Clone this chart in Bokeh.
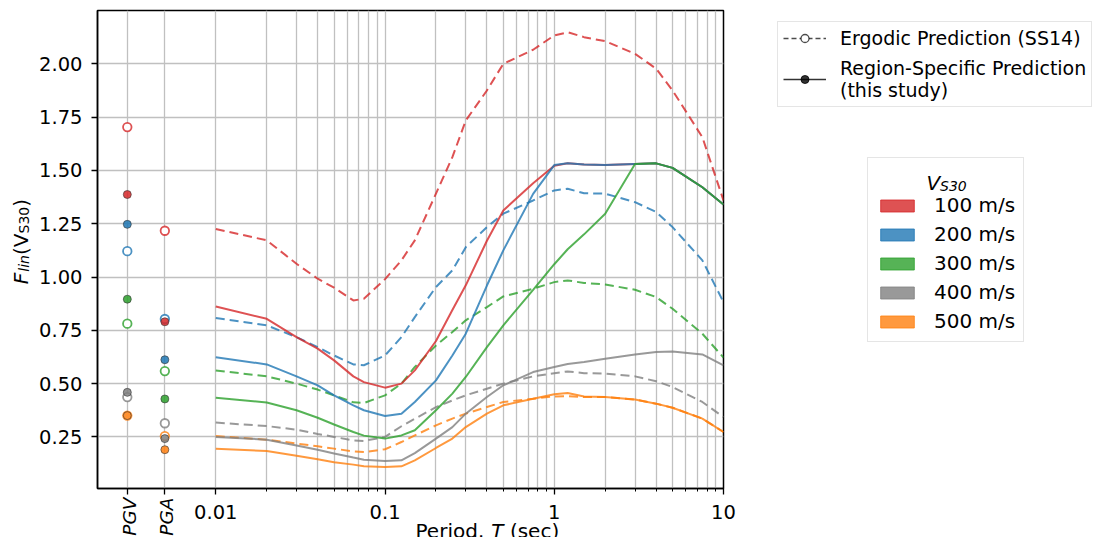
import math
from bokeh.plotting import figure
from bokeh.layouts import row, column
from bokeh.models import (Range1d, FixedTicker, CustomJSTickFormatter, NumeralTickFormatter,
                          Legend, LegendItem, Label, ColumnDataSource)
from bokeh.embed import file_html
from bokeh.resources import INLINE

# ---------------- data ----------------
periods = [0.01, 0.02, 0.03, 0.04, 0.05, 0.065, 0.075, 0.1, 0.125, 0.15, 0.2, 0.25, 0.3, 0.4,
           0.5, 0.75, 1.0, 1.2, 1.5, 2.0, 3.0, 4.0, 5.0, 7.5, 10.0]

vs30_labels = ["100 m/s", "200 m/s", "300 m/s", "400 m/s", "500 m/s"]
colors = ["#d62728", "#1f77b4", "#2ca02c", "#7f7f7f", "#ff7f0e"]

# Ergodic prediction (SS14), dashed
ergodic_100 = [1.225, 1.172, 1.062, 0.992, 0.950, 0.890, 0.898, 0.990, 1.078, 1.172, 1.391, 1.562,
               1.734, 1.875, 2.000, 2.066, 2.133, 2.148, 2.125, 2.106, 2.047, 1.977, 1.875, 1.656,
               1.359]
ergodic_200 = [0.808, 0.773, 0.718, 0.671, 0.632, 0.590, 0.586, 0.632, 0.718, 0.812, 0.953, 1.031,
               1.140, 1.234, 1.297, 1.359, 1.406, 1.414, 1.393, 1.391, 1.351, 1.305, 1.234, 1.078,
               0.882]
ergodic_300 = [0.562, 0.534, 0.500, 0.472, 0.445, 0.412, 0.409, 0.445, 0.500, 0.578, 0.679, 0.742,
               0.797, 0.859, 0.909, 0.945, 0.976, 0.984, 0.972, 0.965, 0.940, 0.906, 0.851, 0.734,
               0.622]
ergodic_400 = [0.317, 0.301, 0.284, 0.264, 0.250, 0.233, 0.231, 0.250, 0.300, 0.335, 0.390, 0.421,
               0.445, 0.476, 0.500, 0.534, 0.549, 0.557, 0.549, 0.547, 0.534, 0.511, 0.484, 0.414,
               0.343]
ergodic_500 = [0.254, 0.237, 0.219, 0.206, 0.195, 0.182, 0.179, 0.192, 0.226, 0.257, 0.304, 0.336,
               0.359, 0.390, 0.414, 0.429, 0.440, 0.441, 0.437, 0.437, 0.425, 0.406, 0.387, 0.336,
               0.273]

# Region-specific prediction (this study), solid
region_100 = [0.862, 0.804, 0.718, 0.664, 0.609, 0.534, 0.507, 0.481, 0.500, 0.562, 0.700, 0.845,
              0.961, 1.170, 1.312, 1.440, 1.522, 1.534, 1.528, 1.525, 1.530, 1.533, 1.512, 1.421,
              1.340]
region_200 = [0.624, 0.590, 0.534, 0.492, 0.445, 0.398, 0.375, 0.348, 0.359, 0.414, 0.515, 0.632,
              0.734, 0.960, 1.125, 1.390, 1.525, 1.534, 1.528, 1.525, 1.530, 1.533, 1.512, 1.421,
              1.340]
region_300 = [0.434, 0.411, 0.375, 0.340, 0.308, 0.273, 0.256, 0.242, 0.257, 0.281, 0.375, 0.453,
              0.531, 0.671, 0.773, 0.940, 1.060, 1.130, 1.200, 1.297, 1.530, 1.533, 1.512, 1.421,
              1.340]
region_400 = [0.250, 0.237, 0.210, 0.190, 0.172, 0.153, 0.143, 0.137, 0.140, 0.174, 0.242, 0.296,
              0.359, 0.437, 0.492, 0.554, 0.578, 0.592, 0.601, 0.617, 0.637, 0.648, 0.651, 0.637,
              0.586]
region_500 = [0.195, 0.184, 0.162, 0.145, 0.131, 0.120, 0.112, 0.109, 0.112, 0.140, 0.198, 0.242,
              0.296, 0.359, 0.398, 0.429, 0.450, 0.456, 0.440, 0.437, 0.425, 0.406, 0.387, 0.336,
              0.273]

ergodic = [ergodic_100, ergodic_200, ergodic_300, ergodic_400, ergodic_500]
region = [region_100, region_200, region_300, region_400, region_500]

# PGV / PGA values (per Vs30: 100..500)
pgv_ergodic = [1.703, 1.121, 0.781, 0.437, 0.350]
pgv_region = [1.387, 1.247, 0.896, 0.459, 0.350]
pga_ergodic = [1.217, 0.803, 0.559, 0.314, 0.254]
pga_region = [0.790, 0.612, 0.428, 0.242, 0.190]

# positions of the PGV / PGA columns on the period axis
PGV_T = 0.003
PGA_T = 0.005
point_names = ["PGV", "PGA"]

x_ticks = [PGV_T, PGA_T, 0.01, 0.1, 1, 10]
x_tick_labels = ["", "", "0.01", "0.1", "1", "10"]
x_minor = [k * 10.0 ** e for e in (-2, -1, 0) for k in range(2, 10)]
y_ticks = [0.25, 0.5, 0.75, 1.0, 1.25, 1.5, 1.75, 2.0]

legend_style_labels = ["Ergodic Prediction (SS14)", "Region-Specific Prediction\n(this study)"]

X_START, X_END = 0.002, 10.0
Y_START, Y_END = 0.008, 2.25

# ---------------- layout constants (pixels) ----------------
FONT = "DejaVu Sans"
TOTAL_W, TOTAL_H = 1093, 544
YSTRIP_W = 36
LEFT_B = 61            # main figure left border (y tick labels)
FRAME_W, FRAME_H = 626, 478
RIGHT_B = 16
TOP_B, BOT_B = 10, 8
YS_H = TOP_B + FRAME_H + BOT_B
ROW_H = 503            # rendered height of the main figure (frame + bottom tick axis)
MAIN_W = LEFT_B + FRAME_W + RIGHT_B
BSTRIP_H = TOTAL_H - ROW_H
LEG_W = TOTAL_W - YSTRIP_W - MAIN_W
NAN = float("nan")


def bare_figure(w, h, **kw):
    f = figure(width=w, height=h, x_axis_location=None, y_axis_location=None,
               min_border=0, toolbar_location=None, output_backend="svg", **kw)
    f.outline_line_color = None
    f.background_fill_color = "white"
    f.border_fill_color = "white"
    for g in f.grid:
        g.visible = False
    return f


# ---------------- main figure ----------------
p = figure(frame_width=FRAME_W, frame_height=FRAME_H, x_axis_type="log",
           x_range=Range1d(X_START, X_END), y_range=Range1d(Y_START, Y_END),
           output_backend="svg", toolbar_location=None,
           min_border_left=LEFT_B, min_border_right=RIGHT_B,
           min_border_top=TOP_B, min_border_bottom=BOT_B)
p.background_fill_color = "white"
p.border_fill_color = "white"
p.outline_line_color = "black"
p.outline_line_width = 1.5
p.outline_line_alpha = 1.0

p.xaxis.ticker = FixedTicker(ticks=x_ticks, minor_ticks=x_minor)
p.xaxis.formatter = CustomJSTickFormatter(code="return '';")
p.xaxis.major_label_text_font_size = "0px"
p.xaxis.major_label_standoff = 0
p.xaxis.axis_label = None
p.xaxis.axis_label_standoff = 0
p.xaxis.axis_label_text_font_size = "0px"
p.yaxis.ticker = FixedTicker(ticks=y_ticks)
p.yaxis.formatter = NumeralTickFormatter(format="0.00")

for ax in (p.xaxis[0], p.yaxis[0]):
    ax.axis_line_color = "black"
    ax.axis_line_width = 1.5
    ax.major_tick_line_color = "black"
    ax.major_tick_line_width = 1.3
    ax.major_tick_in = 0
    ax.major_tick_out = 6
    ax.minor_tick_line_color = "black"
    ax.minor_tick_line_width = 1
    ax.minor_tick_in = 0
    ax.minor_tick_out = 3
p.yaxis.major_label_text_font = FONT
p.yaxis.major_label_text_font_size = "19.5px"
p.yaxis.major_label_text_color = "black"
p.yaxis.major_label_standoff = 9

p.xgrid.grid_line_color = "#c0c0c0"
p.xgrid.grid_line_width = 1.3
p.xgrid.minor_grid_line_color = "#c0c0c0"
p.xgrid.minor_grid_line_width = 1.3
p.ygrid.grid_line_color = "#c0c0c0"
p.ygrid.grid_line_width = 1.3

for i, c in enumerate(colors):
    p.line(periods, ergodic[i], line_color=c, line_alpha=0.8, line_width=2, line_dash="9 5")
for i, c in enumerate(colors):
    p.line(periods, region[i], line_color=c, line_alpha=0.8, line_width=2)

for i, c in enumerate(colors):
    p.scatter([PGV_T, PGA_T], [pgv_ergodic[i], pga_ergodic[i]], marker="circle", size=8.5,
              fill_color="white", line_color=c, line_alpha=0.8, line_width=1.8)
for i, c in enumerate(colors):
    p.scatter([PGV_T, PGA_T], [pgv_region[i], pga_region[i]], marker="circle", size=8,
              fill_color=c, fill_alpha=0.85, line_color="#333333", line_alpha=0.6, line_width=1)


def add_text(fig, x, y, text, size, style="normal", angle=0.0, align="left",
             baseline="alphabetic", x_units="screen", x_offset=0, level="overlay"):
    fig.add_layout(Label(x=x, y=y, x_units=x_units, y_units="screen", text=text, angle=angle,
                         text_align=align, text_baseline=baseline, text_font=FONT,
                         text_font_style=style, text_font_size=size, text_color="black",
                         x_offset=x_offset, level=level))


# ---------------- y label strip ----------------
ys = bare_figure(YSTRIP_W, YS_H, x_range=Range1d(0, 1), y_range=Range1d(0, 1))
A = math.pi / 2
yb = YS_H - 291.7      # bottom end of the label (screen px from strip bottom)
add_text(ys, 20.5, yb, "F", "20px", "italic", A)
add_text(ys, 23.5, yb + 12.5, "lin", "14px", "italic", A)
add_text(ys, 20.5, yb + 29.2, "(", "20px", "normal", A)
add_text(ys, 20.5, yb + 37.0, "V", "20px", "normal", A)
add_text(ys, 23.5, yb + 50.7, "S30", "14px", "normal", A)
add_text(ys, 20.5, yb + 77.4, ")", "20px", "normal", A)

# ---------------- bottom strip: x tick labels, PGV/PGA, x label ----------------
decade_px = FRAME_W / math.log10(X_END / X_START)
bs_w = YSTRIP_W + MAIN_W
frame_left = YSTRIP_W + LEFT_B
bs_start = X_START * 10 ** (-frame_left / decade_px)
bs_end = X_END * 10 ** ((bs_w - frame_left - FRAME_W) / decade_px)
bs = bare_figure(bs_w, BSTRIP_H, x_axis_type="log", x_range=Range1d(bs_start, bs_end),
                 y_range=Range1d(0, 1))
for t, lab in zip(x_ticks, x_tick_labels):
    if lab:
        add_text(bs, t, TOTAL_H - 518, lab, "19.5px", align="center", x_units="data")
for name, t in zip(point_names, [PGV_T, PGA_T]):
    add_text(bs, t, BSTRIP_H - 1, name, "18.5px", "italic", A, align="right",
             x_units="data", x_offset=2)
add_text(bs, 415, 7, "Period,", "20px")
add_text(bs, 490.8, 7, "T", "20px", "italic")
add_text(bs, 509.4, 7, "(sec)", "20px")

# ---------------- legend figure ----------------
lg = bare_figure(LEG_W, TOTAL_H, x_range=Range1d(0, 1), y_range=Range1d(0, 1))
leg_x0 = YSTRIP_W + MAIN_W
dummy = ColumnDataSource(dict(x=[NAN], y=[NAN]))
r_erg_line = lg.line("x", "y", source=dummy, line_color="black", line_alpha=0.7, line_width=1.5,
                     line_dash="5 3")
r_erg_pt = lg.scatter("x", "y", source=dummy, marker="circle", size=7, fill_color="white",
                      line_color="black", line_alpha=0.7, line_width=1.3)
r_reg_line = lg.line("x", "y", source=dummy, line_color="black", line_alpha=0.8, line_width=1.5)
r_reg_pt = lg.scatter("x", "y", source=dummy, marker="circle", size=7, fill_color="black",
                      line_color="black", fill_alpha=0.8, line_alpha=0.8)

# V_S30 title text for the colour legend (legend background is transparent)
add_text(lg, 926 - leg_x0, TOTAL_H - 182, "V", "20px", "italic", level="annotation")
add_text(lg, 939.5 - leg_x0, TOTAL_H - 185.5, "S30", "14px", "italic", level="annotation")

legend1 = Legend(items=[LegendItem(label=legend_style_labels[0], renderers=[r_erg_line, r_erg_pt]),
                        LegendItem(label=legend_style_labels[1], renderers=[r_reg_line, r_reg_pt])],
                 location=(777 - leg_x0, TOTAL_H - 107))
legend1.glyph_width = 43
legend1.glyph_height = 20
legend1.label_standoff = 14
legend1.padding = 5
legend1.spacing = 8
legend1.margin = 0
legend1.label_text_font = FONT
legend1.label_text_font_size = "19px"
legend1.label_text_color = "black"
legend1.border_line_color = "#cccccc"
legend1.border_line_width = 1.3
legend1.background_fill_color = "white"
legend1.background_fill_alpha = 1.0
lg.add_layout(legend1)

vs_items = []
for lab, c in zip(vs30_labels, colors):
    r = lg.quad(left=[NAN], right=[NAN], top=[NAN], bottom=[NAN], fill_color=c, fill_alpha=0.8,
                line_color=c, line_alpha=0.8)
    vs_items.append(LegendItem(label=lab, renderers=[r]))
legend2 = Legend(items=vs_items, location=(867 - leg_x0, TOTAL_H - 342), title=" ")
legend2.glyph_width = 42
legend2.glyph_height = 15
legend2.label_height = 23
legend2.label_standoff = 16
legend2.padding = 8
legend2.spacing = 5
legend2.margin = 0
legend2.title_standoff = 3
legend2.title_text_font = FONT
legend2.title_text_font_size = "20px"
legend2.label_text_font = FONT
legend2.label_text_font_size = "20px"
legend2.label_text_color = "black"
legend2.border_line_color = "#cccccc"
legend2.border_line_width = 1.3
legend2.background_fill_alpha = 0.0
lg.add_layout(legend2)

layout = row(column(row(ys, p), bs), lg)
open("out.html", "w").write(file_html(layout, INLINE))
